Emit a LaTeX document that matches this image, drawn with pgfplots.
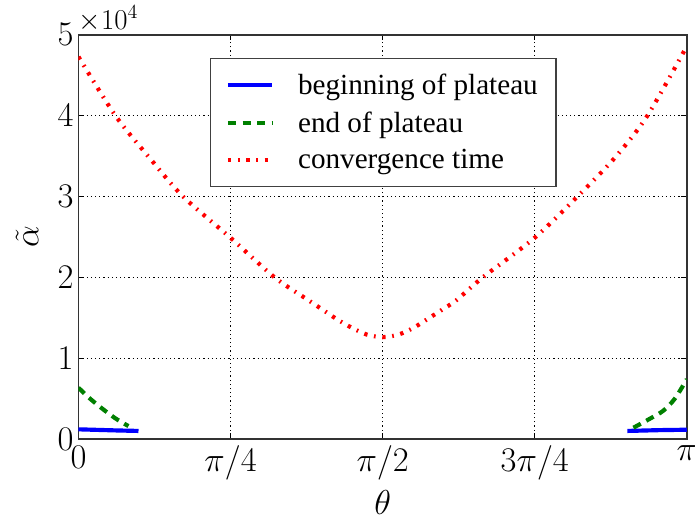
\documentclass[border=0pt]{standalone}
\usepackage{fontspec}
\setmainfont{Liberation Serif}
\usepackage{pgfplots}
\pgfplotsset{compat=1.18}
\definecolor{mplgreen}{RGB}{0,128,0}
\begin{document}
\begin{tikzpicture}
\begin{axis}[
  scale only axis,
  width=438pt, height=291pt,
  xmin=0, xmax=3.14159265,
  ymin=0, ymax=50000,
  xtick={0,0.785398,1.570796,2.356194,3.14159265},
  xticklabels={$0$,$\pi/4$,$\pi/2$,$3\pi/4$,$\pi$},
  ytick={0,10000,20000,30000,40000,50000},
  scaled y ticks=base 10:-4,
  ytick scale label code/.code={$\times 10^{4}$},
  every y tick scale label/.style={at={(rel axis cs:0,1)},anchor=south west,inner sep=0pt,yshift=2pt,font=\fontsize{20.5}{22}\selectfont},
  tick label style={font=\fontsize{24}{26}\selectfont},
  yticklabel style={/pgf/number format/fixed},
  xticklabel style={yshift=-1.5pt},
  major tick length=4pt,
  tick style={black, line width=0.8pt},
  axis line style={black!80, line width=1.1pt},
  grid=major,
  major grid style={black, line width=0.6pt, dash pattern=on 0.8pt off 2.2pt},
  xlabel={$\theta$},
  ylabel={$\tilde{\alpha}$},
  label style={font=\fontsize{25}{27}\selectfont},
  xlabel style={at={(axis description cs:0.5,0)},anchor=base,inner sep=0pt,yshift=-54pt},
  ylabel style={at={(axis description cs:0,0.5)},anchor=center,yshift=37pt},
  legend style={at={(0.216,0.943)},anchor=north west,draw=black!75,line width=1pt,
    font=\fontsize{21}{23}\selectfont, inner xsep=11pt, inner ysep=9pt,
    row sep=7pt, cells={anchor=west}},
  legend image code/.code={\draw[#1] (0pt,0pt) -- (32pt,0pt);},
  legend cell align=left,
]
\coordinate (O) at (rel axis cs:0,0);
% beginning of plateau
\addplot[blue, line width=3pt] coordinates {(0,1200) (0.1,1130) (0.2,1060) (0.31,1000)};
\addlegendentry{\hspace{15pt}beginning of plateau}
% end of plateau
\addplot[mplgreen, line width=3pt, dash pattern=on 6pt off 4.5pt, smooth] coordinates {(0,6350) (0.05,5200) (0.11,4000) (0.188,2600) (0.258,1600)};
\addlegendentry{\hspace{15pt}end of plateau}
% convergence time
\addplot[red, line width=3pt, dash pattern=on 2.4pt off 4.8pt on 1.2pt off 4.8pt, smooth] coordinates {
(0,47300) (0.191,40000) (0.37,34700) (0.54,30000) (0.785,24900) (1.013,20000)
(1.189,17150) (1.264,15950) (1.336,14800) (1.411,13770) (1.488,12930) (1.5708,12600)
(1.654,12930) (1.733,13800) (1.806,14900) (1.878,16000) (1.953,17200) (2.088,20000)
(2.356,24900) (2.577,30000) (2.77,34800) (2.938,40000) (3.14159,48600)};
\addlegendentry{\hspace{15pt}convergence time}
\addplot[blue, line width=3pt, forget plot] coordinates {(2.835,1000) (3.0,1100) (3.14159,1150)};
\addplot[mplgreen, line width=3pt, dash pattern=on 6pt off 4.5pt, smooth, forget plot] coordinates {(2.866,1400) (2.95,2500) (3.02,3500) (3.08,5000) (3.14159,7400)};
\end{axis}
\pgfresetboundingbox
\path (O) ++(-56.5pt,-57.6pt) rectangle ++(500.4pt,373.7pt);
\end{tikzpicture}
\end{document}
